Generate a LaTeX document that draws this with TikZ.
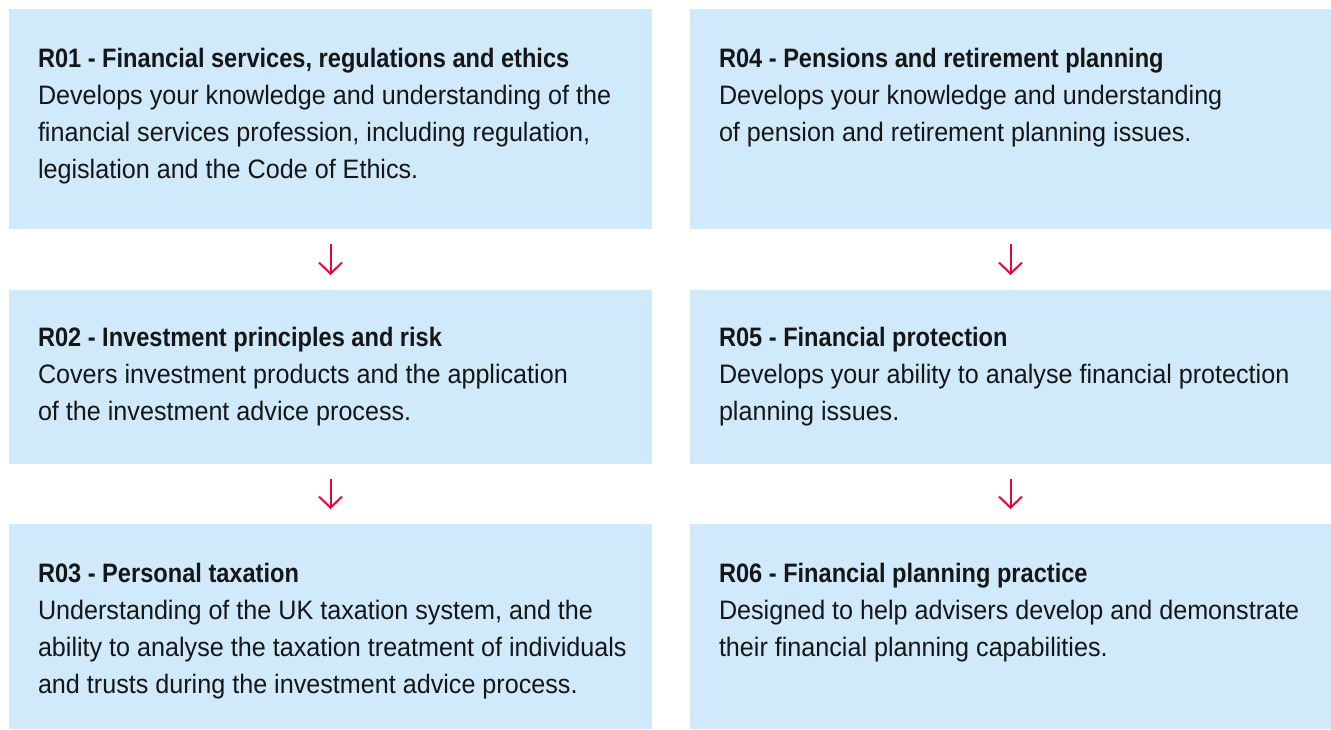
\documentclass[tikz,border=0pt]{standalone}
\usepackage{fontspec}
\setmainfont{Liberation Sans}
\newfontfamily\bodyfont{Liberation Sans}[FakeStretch=0.943]
\newfontfamily\titlefont{Liberation Sans Bold}[FakeStretch=0.885]
\usetikzlibrary{arrows.meta}
\definecolor{boxblue}{HTML}{D0EAFC}
\definecolor{arrowred}{HTML}{E3063C}
\definecolor{inktext}{HTML}{161616}
\tikzset{
  modbox/.style={rectangle, fill=boxblue, draw=none, inner sep=0pt, outer sep=0pt, anchor=north west},
  modtext/.style={anchor=north west, inner sep=0pt, outer sep=0pt, align=left, text=inktext,
    font=\bodyfont\fontsize{26.67}{37}\selectfont},
  flowarrow/.style={draw=arrowred, line width=2pt, -{Straight Barb[length=11pt,width=23pt]},
    shorten <=15pt, shorten >=15pt}
}
\newcommand{\modtitle}[1]{\rule{0pt}{20pt}{\titlefont #1}}
\begin{document}
\begin{tikzpicture}[x=1pt,y=-1pt]
\useasboundingbox (0,0) rectangle (1331,729);
% boxes
\node[modbox, minimum width=643pt, minimum height=220pt] (b1) at (9,9) {};
\node[modbox, minimum width=643pt, minimum height=174pt] (b2) at (9,290) {};
\node[modbox, minimum width=643pt, minimum height=205pt] (b3) at (9,524) {};
\node[modbox, minimum width=641pt, minimum height=220pt] (b4) at (690,9) {};
\node[modbox, minimum width=641pt, minimum height=174pt] (b5) at (690,290) {};
\node[modbox, minimum width=641pt, minimum height=205pt] (b6) at (690,524) {};
% texts
\node[modtext] (t1) at (38,47) {\modtitle{R01 - Financial services, regulations and ethics}\\
Develops your knowledge and understanding of the\\
financial services profession, including regulation,\\
legislation and the Code of Ethics.};
\node[modtext] (t2) at (38,326) {\modtitle{R02 - Investment principles and risk}\\
Covers investment products and the application\\
of the investment advice process.};
\node[modtext] (t3) at (38,562) {\modtitle{R03 - Personal taxation}\\
Understanding of the UK taxation system, and the\\
ability to analyse the taxation treatment of individuals\\
and trusts during the investment advice process.};
\node[modtext] (t4) at (719,47) {\modtitle{R04 - Pensions and retirement planning}\\
Develops your knowledge and understanding\\
of pension and retirement planning issues.};
\node[modtext] (t5) at (719,326) {\modtitle{R05 - Financial protection}\\
Develops your ability to analyse financial protection\\
planning issues.};
\node[modtext] (t6) at (719,562) {\modtitle{R06 - Financial planning practice}\\
Designed to help advisers develop and demonstrate\\
their financial planning capabilities.};
% arrows
\draw[flowarrow] (b1.south) -- (b2.north);
\draw[flowarrow] (b2.south) -- (b3.north);
\draw[flowarrow] (b4.south) -- (b5.north);
\draw[flowarrow] (b5.south) -- (b6.north);
\end{tikzpicture}
\end{document}
